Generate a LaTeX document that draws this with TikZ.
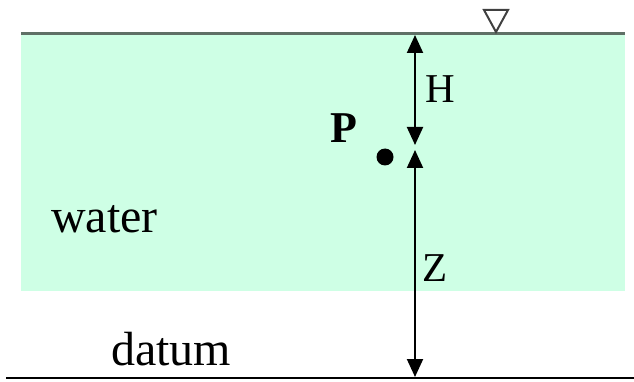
\documentclass[tikz,border=0pt]{standalone}
\usepackage{fontspec}
\setmainfont{Liberation Serif}
\usetikzlibrary{arrows.meta}
\definecolor{waterc}{RGB}{206,255,229}
\definecolor{surfc}{RGB}{95,112,102}
\begin{document}
\begin{tikzpicture}[x=1pt,y=-1pt,
  lbl/.style={anchor=base west,inner sep=0pt,font=\fontsize{48}{52}\selectfont},
  sym/.style={anchor=base west,inner sep=0pt,font=\fontsize{41}{44}\selectfont},
  dim/.style={line width=2pt,{Triangle[length=18pt,width=16pt]}-{Triangle[length=18pt,width=16pt]}}]
\useasboundingbox (0,0) rectangle (634,382);
\fill[waterc] (21,34) rectangle (625,291);
\draw[surfc,line width=3pt] (21,34) coordinate (sl) -- (625,34) coordinate (sr);
\draw[black!75,line width=2pt,line join=miter] (484,10) -- (508,10) -- (496,32) -- cycle;
\draw[line width=2pt] (6,378) coordinate (dl) -- (634,378) coordinate (dr);
\coordinate (htop) at (415,35);
\coordinate (hbot) at (415,145);
\coordinate (ztop) at (415,150);
\coordinate (zbot) at (415,377);
\draw[dim] (htop) -- (hbot);
\draw[dim] (ztop) -- (zbot);
\node[sym] (H) at (425,103) {H};
\node[sym] (Z) at (422,281) {Z};
\node[sym,font=\fontsize{44}{46}\selectfont\bfseries] (P) at (330,143) {P};
\fill (385,157) circle (8.5pt);
\node[lbl] (water) at (51,233) {water};
\node[lbl] (datum) at (111,365) {datum};
\end{tikzpicture}
\end{document}
